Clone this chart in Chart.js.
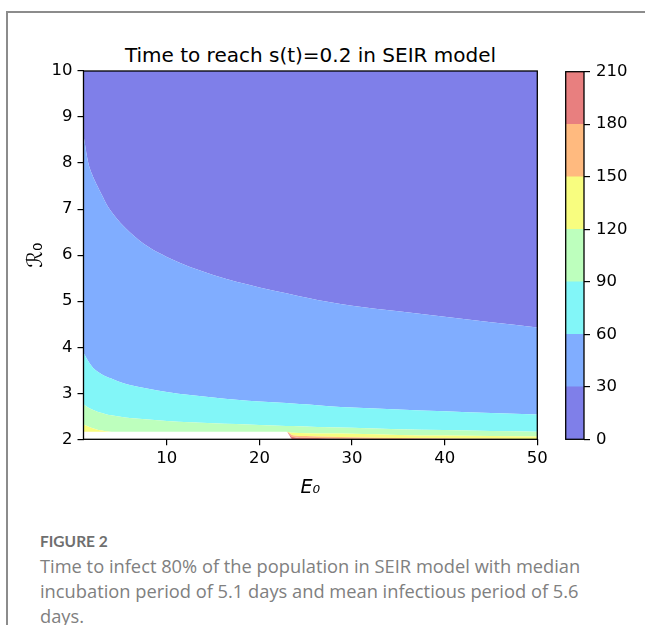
<!DOCTYPE html>
<html>
<head>
<meta charset="utf-8">
<script src="https://cdn.jsdelivr.net/npm/chart.js@4.4.1/dist/chart.umd.min.js"></script>
<style>
  body { margin: 0; width: 645px; height: 625px; background: #fff; position: relative; overflow: hidden; }
  .frame { position: absolute; left: 6px; top: 11px; width: 700px; height: 700px;
           border-left: 2px solid #8c8c8c; border-top: 2px solid #8c8c8c; }
  canvas { position: absolute; }
  #title { position: absolute; left: 83.5px; width: 454px; top: 45px; text-align: center;
           font: 20px/20px "DejaVu Sans"; color: #000; white-space: nowrap; }
  #figlabel { position: absolute; left: 40px; top: 532px; font: bold 15.5px/18px Lato; color: #6f6f6f; }
  #caption { position: absolute; left: 40px; top: 553px; font: 18.3px/25px "Open Sans"; color: #808080; white-space: nowrap; }
</style>
</head>
<body>
<div class="frame"></div>
<div id="title">Time to reach s(t)=0.2 in SEIR model</div>
<canvas id="main" width="560" height="520" style="left:0;top:0"></canvas>
<canvas id="cbar" width="100" height="520" style="left:545px;top:0"></canvas>
<div id="figlabel">FIGURE 2</div>
<div id="caption">Time to infect 80% of the population in SEIR model with median<br>incubation period of 5.1 days and mean infectious period of 5.6<br>days.</div>
<script>
// E0 sample points and the R0 value of each contour boundary
const e0 = [1, 1.5, 2, 2.5, 3, 3.5, 4, 5, 6, 8, 10, 12.5, 15, 17.5, 20, 22.9, 23.6, 25, 27.5, 30, 35, 40, 45, 50];

// lower edge of the coloured area (white below = no value)
const rFloor = [2.165, 2.165, 2.165, 2.165, 2.165, 2.165, 2.165, 2.165, 2.165, 2.165, 2.165, 2.165, 2.165, 2.165, 2.165, 2.165,
                2.0, 2.0, 2.0, 2.0, 2.0, 2.0, 2.0, 2.0];
const r180 = [2.165, 2.165, 2.165, 2.165, 2.165, 2.165, 2.165, 2.165, 2.165, 2.165, 2.165, 2.165, 2.165, 2.165, 2.165, 2.165,
              2.05, 2.035, 2.02, 2.01, 2.0, 2.0, 2.0, 2.0];
const r150 = [2.165, 2.165, 2.165, 2.165, 2.165, 2.165, 2.165, 2.165, 2.165, 2.165, 2.165, 2.165, 2.165, 2.165, 2.165, 2.165,
              2.09, 2.07, 2.055, 2.045, 2.03, 2.02, 2.012, 2.006];
const r120 = [2.32, 2.28, 2.24, 2.21, 2.19, 2.175, 2.165, 2.165, 2.165, 2.165, 2.165, 2.165, 2.165, 2.165, 2.165, 2.165,
              2.14, 2.13, 2.125, 2.12, 2.095, 2.08, 2.07, 2.06];
const r90 = [2.76, 2.69, 2.64, 2.6, 2.57, 2.54, 2.52, 2.49, 2.46, 2.43, 2.4, 2.37, 2.35, 2.33, 2.31, 2.29,
             2.29, 2.28, 2.26, 2.25, 2.22, 2.2, 2.18, 2.165];
const r60 = [3.88, 3.7, 3.56, 3.47, 3.41, 3.36, 3.32, 3.24, 3.18, 3.1, 3.03, 2.96, 2.91, 2.86, 2.82, 2.79,
             2.78, 2.76, 2.72, 2.69, 2.65, 2.61, 2.57, 2.54];
const r30 = [8.6, 8.02, 7.72, 7.5, 7.3, 7.1, 6.95, 6.7, 6.5, 6.18, 5.96, 5.74, 5.57, 5.42, 5.3, 5.17,
             5.14, 5.08, 4.98, 4.9, 4.78, 4.66, 4.54, 4.43];

const levels = [0, 30, 60, 90, 120, 150, 180, 210];
const levelColors = ['#7f7fe9', '#80adff', '#82f6f8', '#bdffbd', '#f8fd7f', '#ffba7f', '#e87f7f'];
const xTicks = [10, 20, 30, 40, 50];
const yTicks = [2, 3, 4, 5, 6, 7, 8, 9, 10];

const tickFont = { family: 'DejaVu Sans', size: 16.5 };
const axisGrid = { drawOnChartArea: false, drawTicks: true, tickLength: 6, color: '#000', lineWidth: 1.2 };

const framePlugin = {
  id: 'frame',
  afterDatasetsDraw(chart) {
    const { ctx, chartArea: a } = chart;
    ctx.save();
    ctx.strokeStyle = '#000';
    ctx.lineWidth = 1.3;
    ctx.strokeRect(a.left, a.top, a.right - a.left, a.bottom - a.top);
    ctx.restore();
  }
};

function pts(arr) {
  return arr.map((r, k) => ({ x: e0[k], y: r }));
}

// each boundary fills down to the one below it
const boundaries = [rFloor, r180, r150, r120, r90, r60, r30];
const datasets = boundaries.map((arr, i) => ({
  data: pts(arr),
  fill: i === 0 ? false : '-1',
  backgroundColor: i === 0 ? 'rgba(0,0,0,0)' : levelColors[7 - i],
  borderWidth: 0,
  pointRadius: 0,
  cubicInterpolationMode: 'monotone'
}));
datasets.push({
  data: pts(r30),
  fill: 'end',
  backgroundColor: levelColors[0],
  borderWidth: 0,
  pointRadius: 0,
  cubicInterpolationMode: 'monotone'
});

new Chart(document.getElementById('main'), {
  type: 'line',
  data: { datasets },
  plugins: [framePlugin],
  options: {
    responsive: false,
    animation: false,
    layout: { padding: { left: 0, top: 71, right: 22.7, bottom: 0 } },
    plugins: { legend: { display: false }, tooltip: { enabled: false } },
    scales: {
      x: {
        type: 'linear', min: 1, max: 50,
        afterBuildTicks: s => { s.ticks = xTicks.map(v => ({ value: v })); },
        afterFit: s => { s.height = 80.7; s.paddingLeft = 0; s.paddingRight = 0; },
        grid: axisGrid,
        border: { display: false },
        ticks: { color: '#000', font: tickFont, padding: 4, maxRotation: 0 },
        title: { display: true, text: 'E₀', color: '#000',
                 font: { family: 'DejaVu Sans', size: 19, style: 'italic' }, padding: { top: 0, bottom: 21 } }
      },
      y: {
        min: 2, max: 10,
        afterBuildTicks: s => { s.ticks = yTicks.map(v => ({ value: v })); },
        afterFit: s => { s.width = 83.5; s.paddingTop = 0; s.paddingBottom = 0; },
        grid: axisGrid,
        border: { display: false },
        ticks: { color: '#000', font: tickFont, padding: 5 },
        title: { display: true, text: 'ℛ₀', color: '#000',
                 font: { family: 'DejaVu Sans', size: 21 }, padding: { top: 24, bottom: 0 } }
      }
    }
  }
});

// colour bar
new Chart(document.getElementById('cbar'), {
  type: 'bar',
  data: {
    labels: [''],
    datasets: levelColors.map((c, i) => ({
      data: [[levels[i], levels[i + 1]]],
      backgroundColor: c,
      borderWidth: 0,
      grouped: false,
      barPercentage: 1,
      categoryPercentage: 1
    }))
  },
  plugins: [framePlugin],
  options: {
    responsive: false,
    animation: false,
    layout: { padding: { left: 20.7, top: 71.7, right: 0, bottom: 80.7 } },
    plugins: { legend: { display: false }, tooltip: { enabled: false } },
    scales: {
      x: { display: false },
      y: {
        position: 'right', min: 0, max: 210,
        afterBuildTicks: s => { s.ticks = levels.map(v => ({ value: v })); },
        afterFit: s => { s.width = 61; s.paddingTop = 0; s.paddingBottom = 0; },
        grid: axisGrid,
        border: { display: false },
        ticks: { color: '#000', font: tickFont, padding: 6 }
      }
    }
  }
});
</script>
</body>
</html>
